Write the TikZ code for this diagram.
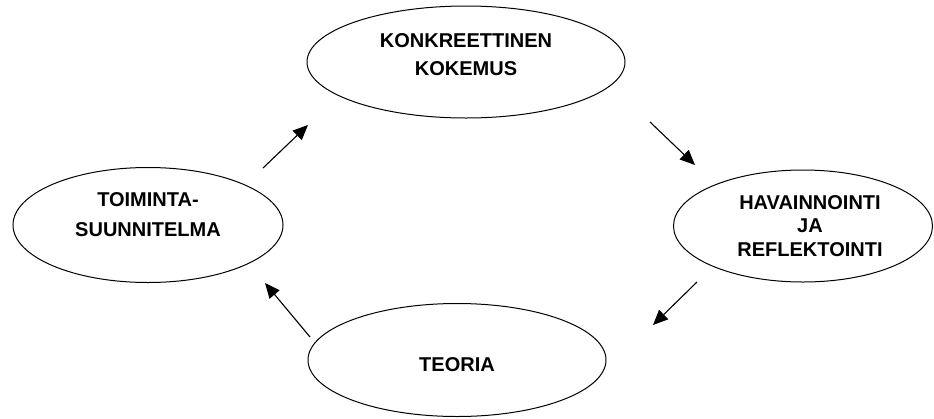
\documentclass[tikz,border=0pt]{standalone}
\usepackage{fontspec}
\setmainfont{Liberation Sans}
\usetikzlibrary{shapes.geometric,arrows.meta}
\tikzset{
  oval/.style={draw=black, line width=1pt, ellipse, inner sep=0pt},
  lbl/.style={align=center, inner sep=0pt, font=\bfseries\fontsize{20}{#1}\selectfont},
  lbl/.default=28,
  flow/.style={draw=black, line width=1.1pt, -{Triangle[length=15pt,width=13pt]}}
}
\begin{document}
\begin{tikzpicture}[x=1pt,y=-1pt]
\useasboundingbox (0,0) rectangle (934,418);
\fill[white] (0,0) rectangle (934,418);
% ellipses
\node[oval, minimum width=318pt, minimum height=112pt] (kk) at (466,62) {};
\node[oval, minimum width=259pt, minimum height=112pt] (hr) at (803,226) {};
\node[oval, minimum width=298pt, minimum height=113pt] (te) at (457,360) {};
\node[oval, minimum width=270pt, minimum height=115pt] (ts) at (148,225) {};
% labels
\node[lbl=28] (tkk) at (466,55) {KONKREETTINEN\\KOKEMUS};
\node[lbl=23.5] (thr) at (810,226) {HAVAINNOINTI\\JA\\REFLEKTOINTI};
\node[lbl] (tte) at (457,365) {TEORIA};
\node[lbl=29.5] (tts) at (148,214.5) {TOIMINTA-\\SUUNNITELMA};
% arrow end points
\coordinate (a1s) at (263,168); \coordinate (a1e) at (308,125);
\coordinate (a2s) at (650,122); \coordinate (a2e) at (695,165);
\coordinate (a3s) at (697,282); \coordinate (a3e) at (653,325);
\coordinate (a4s) at (310,337); \coordinate (a4e) at (265,283);
\draw[flow] (a1s) -- (a1e);
\draw[flow] (a2s) -- (a2e);
\draw[flow] (a3s) -- (a3e);
\draw[flow] (a4s) -- (a4e);
\end{tikzpicture}
\end{document}
